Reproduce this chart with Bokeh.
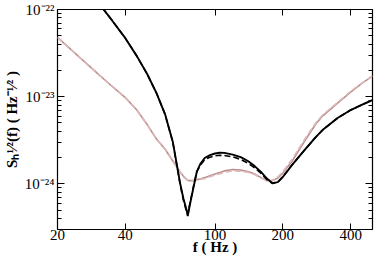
from bokeh.plotting import figure
from bokeh.models import Range1d, LogAxis, FixedTicker
from bokeh.embed import file_html
from bokeh.resources import INLINE

# ---------------- data ----------------
freq = [20, 25, 30, 35, 40, 45, 50, 55, 60, 65, 70, 72.5, 75, 75.7, 77, 80, 83, 86,
        90, 95, 100, 105, 110, 120, 130, 140, 150, 160, 170, 180, 190, 200, 220,
        250, 280, 300, 350, 400, 450, 500]

black_solid = [4.5e-22, 2.34e-22, 1.25e-22, 7.44e-23, 4.69e-23, 2.92e-23, 1.82e-23,
               1.10e-23, 6.32e-24, 3.02e-24, 1.02e-24, 6.72e-25, 4.89e-25, 4.29e-25,
               5.43e-25, 8.74e-25, 1.37e-24, 1.69e-24, 1.98e-24, 2.14e-24, 2.23e-24,
               2.28e-24, 2.27e-24, 2.17e-24, 2.03e-24, 1.83e-24, 1.60e-24, 1.37e-24,
               1.15e-24, 1.02e-24, 1.05e-24, 1.20e-24, 1.65e-24, 2.45e-24, 3.44e-24,
               4.14e-24, 5.69e-24, 7.03e-24, 8.12e-24, 9.14e-24]

black_dashed = [4.5e-22, 2.34e-22, 1.25e-22, 7.44e-23, 4.69e-23, 2.92e-23, 1.82e-23,
                1.10e-23, 6.30e-24, 3.00e-24, 9.9e-25, 6.4e-25, 4.7e-25, 4.4e-25,
                5.6e-25, 9.0e-25, 1.38e-24, 1.63e-24, 1.90e-24, 2.02e-24, 2.10e-24,
                2.13e-24, 2.12e-24, 2.04e-24, 1.91e-24, 1.73e-24, 1.53e-24, 1.32e-24,
                1.12e-24, 1.01e-24, 1.05e-24, 1.21e-24, 1.66e-24, 2.45e-24, 3.44e-24,
                4.14e-24, 5.69e-24, 7.03e-24, 8.12e-24, 9.14e-24]

pink_solid = [4.78e-23, 2.85e-23, 1.86e-23, 1.31e-23, 9.77e-24, 7.03e-24, 4.79e-24,
              3.27e-24, 2.51e-24, 1.83e-24, 1.37e-24, 1.22e-24, 1.12e-24, 1.10e-24,
              1.09e-24, 1.09e-24, 1.12e-24, 1.14e-24, 1.18e-24, 1.24e-24, 1.30e-24,
              1.35e-24, 1.41e-24, 1.46e-24, 1.44e-24, 1.39e-24, 1.30e-24, 1.18e-24,
              1.09e-24, 1.09e-24, 1.17e-24, 1.33e-24, 1.83e-24, 3.10e-24, 4.86e-24,
              6.00e-24, 8.45e-24, 1.13e-23, 1.43e-23, 1.72e-23]

pink_dashed = [4.78e-23, 2.85e-23, 1.86e-23, 1.31e-23, 9.77e-24, 7.03e-24, 4.79e-24,
               3.27e-24, 2.51e-24, 1.83e-24, 1.37e-24, 1.22e-24, 1.12e-24, 1.10e-24,
               1.09e-24, 1.09e-24, 1.11e-24, 1.13e-24, 1.15e-24, 1.21e-24, 1.26e-24,
               1.31e-24, 1.36e-24, 1.41e-24, 1.40e-24, 1.36e-24, 1.28e-24, 1.17e-24,
               1.09e-24, 1.10e-24, 1.20e-24, 1.38e-24, 1.92e-24, 3.25e-24, 5.00e-24,
               6.15e-24, 8.60e-24, 1.15e-23, 1.44e-23, 1.73e-23]

x_ticks = [20, 40, 100, 200, 400]
y_ticks = [1e-24, 1e-23, 1e-22]
y_tick_labels = ["10\u207b\u00b2\u2074", "10\u207b\u00b2\u00b3", "10\u207b\u00b2\u00b2"]
x_title = "f ( Hz )"
y_title = "S\u2095\u00b9\u2044\u00b2(f) ( Hz\u207b\u00b9\u2044\u00b2 )"
x_lo, x_hi = 20, 500
y_lo, y_hi = 3e-25, 1e-22

y_minor = [m * 10.0 ** e for e in (-25, -24, -23) for m in range(2, 10)]
y_minor = [v for v in y_minor if y_lo * 0.999 <= v <= y_hi]

SERIF = "Liberation Serif"

p = figure(width=374, height=260, x_axis_type="log", y_axis_type="log",
           x_range=Range1d(x_lo, x_hi), y_range=Range1d(y_lo, y_hi),
           output_backend="svg", toolbar_location=None)
p.min_border_left = 57
p.min_border_right = 2
p.min_border_top = 9
p.min_border_bottom = 31
p.grid.visible = False
p.outline_line_color = "black"
p.outline_line_width = 1.2
p.background_fill_color = "white"
p.border_fill_color = "white"


def hide_labels(ax):
    ax.major_label_text_font_size = "1px"
    ax.major_label_text_color = None
    ax.major_label_standoff = 0


# bottom axis
xb = p.xaxis[0]
xb.ticker = FixedTicker(ticks=x_ticks)
xb.major_tick_in = 6
xb.major_tick_out = 0
xb.minor_tick_in = 0
xb.minor_tick_out = 0
xb.axis_line_color = None
xb.major_tick_line_color = "black"
xb.major_label_text_font = SERIF
xb.major_label_text_font_size = "15px"
xb.major_label_text_color = "black"
xb.major_label_standoff = 0
xb.axis_label = x_title
xb.axis_label_text_font = SERIF
xb.axis_label_text_font_size = "15px"
xb.axis_label_text_font_style = "bold"
xb.axis_label_text_color = "black"
xb.axis_label_standoff = -4

# top mirror axis
xa = LogAxis(ticker=FixedTicker(ticks=x_ticks), major_tick_in=6, major_tick_out=0,
             minor_tick_in=0, minor_tick_out=0, axis_line_color=None)
hide_labels(xa)
p.add_layout(xa, "above")

# left axis
yl = p.yaxis[0]
yl.ticker = FixedTicker(ticks=y_ticks, minor_ticks=y_minor)
yl.major_tick_in = 7
yl.major_tick_out = 0
yl.minor_tick_in = 4
yl.minor_tick_out = 0
yl.axis_line_color = None
yl.major_tick_line_color = "black"
yl.minor_tick_line_color = "black"
yl.major_label_overrides = dict(zip(y_ticks, y_tick_labels))
yl.major_label_text_font = SERIF
yl.major_label_text_font_size = "15px"
yl.major_label_text_color = "black"
yl.major_label_standoff = 3
yl.axis_label = y_title
yl.axis_label_text_font = SERIF
yl.axis_label_text_font_size = "15px"
yl.axis_label_text_font_style = "bold"
yl.axis_label_text_color = "black"
yl.axis_label_standoff = 2

# right mirror axis
yr = LogAxis(ticker=FixedTicker(ticks=y_ticks, minor_ticks=y_minor),
             major_tick_in=7, major_tick_out=0, minor_tick_in=4, minor_tick_out=0,
             axis_line_color=None)
hide_labels(yr)
p.add_layout(yr, "right")

# curves
p.line(freq, pink_solid, line_color="#bc8f8f", line_width=1.6)
p.line(freq, pink_dashed, line_color="#dcb8b8", line_width=1.6, line_dash="6 3")
p.line(freq, black_solid, line_color="black", line_width=1.9)
p.line(freq, black_dashed, line_color="black", line_width=1.6, line_dash="6 3")

open("out.html", "w").write(file_html(p, INLINE))
